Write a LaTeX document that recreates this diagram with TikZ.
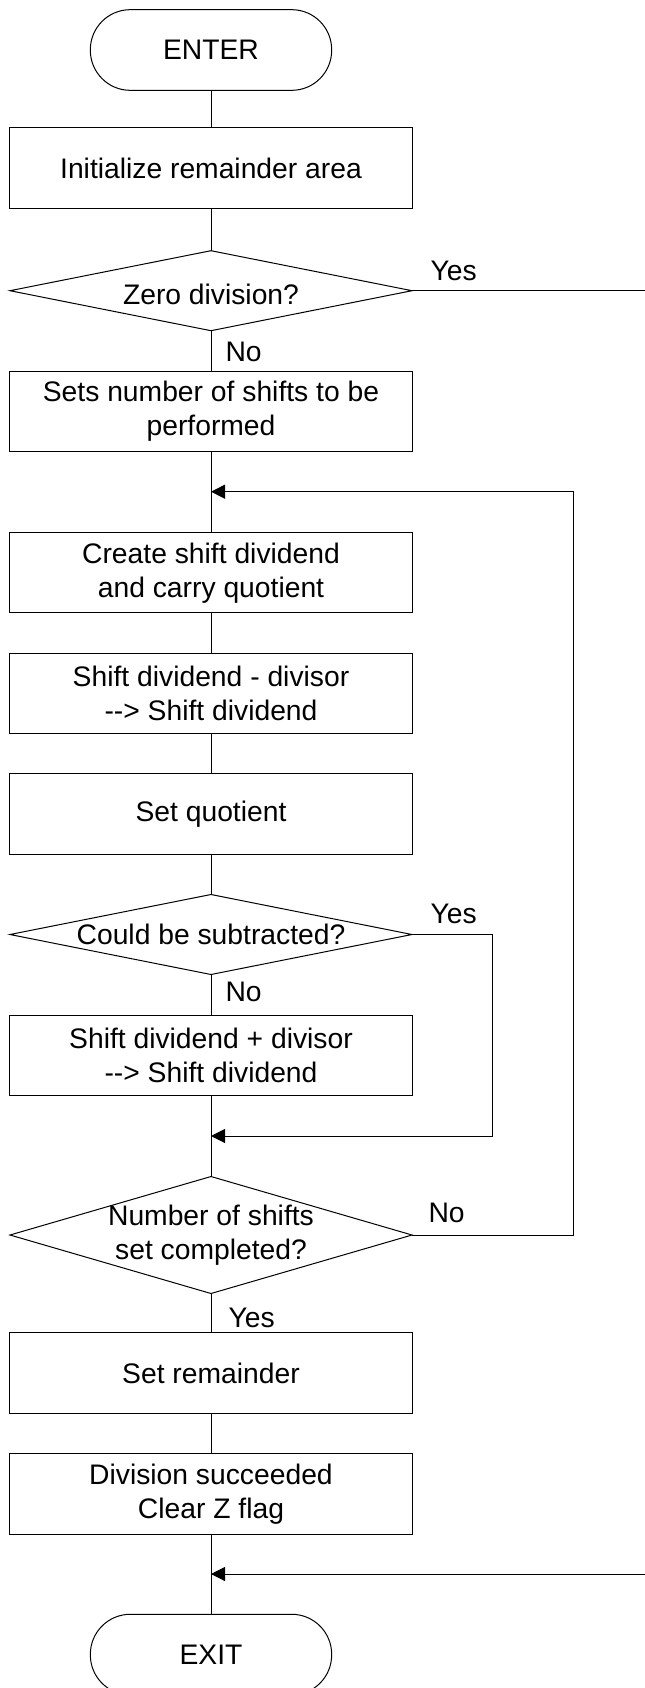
\documentclass[tikz,border=0pt]{standalone}
\usepackage{fontspec}
\setmainfont{Liberation Sans}
\usetikzlibrary{shapes.geometric}
\usetikzlibrary{arrows.meta}

\begin{document}
\begin{tikzpicture}[x = 0.75pt, y = -0.75pt, font = \fontsize{21.2pt}{25.5pt}\selectfont, line width = 0.75pt]
	\tikzstyle{termStyle}=[draw, rectangle, rounded corners = 30pt, minimum width = 181pt, minimum height = 60.5pt, inner sep = 0pt, outer sep = 0pt]
	\tikzstyle{procStyle}=[draw, rectangle, minimum width = 302pt, minimum height = 60.4pt, inner sep = 0pt, outer sep = 0pt, align = center]
	\tikzstyle{decStyle}=[draw, diamond, minimum width = 301.5pt, minimum height = 60pt, inner sep = 0pt, outer sep = 0pt]
	\tikzstyle{textStyle}=[align = center, inner sep = 0pt]
	\tikzstyle{labelStyle}=[anchor = base west, inner sep = 0pt]
	\tikzstyle{arrowStyle}=[-{Triangle[length = 10.5pt, width = 10.5pt]}]
	\path[fill = white, use as bounding box] (0, 0) rectangle (645, 1688);
	\node[termStyle] (enter) at (211, 50) {ENTER};
	\node[procStyle] (b1) at (211, 168) {Initialize remainder area};
	\node[decStyle] (d1) at (211, 290.7) {};
	\node[textStyle] (d1t) at (211, 294) {Zero division?};
	\node[procStyle] (b2) at (211, 411.5) {Sets number of shifts to be\\performed};
	\node[procStyle] (b3) at (211, 572.7) {Create shift dividend\\and carry quotient};
	\node[procStyle] (b4) at (211, 693.3) {Shift dividend - divisor\\-{}-> Shift dividend};
	\node[procStyle] (b5) at (211, 814.1) {Set quotient};
	\node[decStyle] (d2) at (211, 934.5) {};
	\node[textStyle] (d2t) at (211, 934.5) {Could be subtracted?};
	\node[procStyle] (b6) at (211, 1055.3) {Shift dividend + divisor\\-{}-> Shift dividend};
	\node[decStyle, minimum height = 87.75pt] (d3) at (211, 1235) {};
	\node[textStyle] (d3t) at (211, 1235) {Number of shifts\\set completed?};
	\node[procStyle] (b7) at (211, 1373.2) {Set remainder};
	\node[procStyle] (b8) at (211, 1494) {Division succeeded\\Clear Z flag};
	\node[termStyle] (exit) at (211, 1654.6) {EXIT};
	\node[labelStyle] (yes1) at (430, 280) {Yes};
	\node[labelStyle] (no1) at (225, 361.5) {No};
	\node[labelStyle] (yes2) at (430, 923.3) {Yes};
	\node[labelStyle] (no2) at (225, 1001.7) {No};
	\node[labelStyle] (no3) at (428, 1222.7) {No};
	\node[labelStyle] (yes3) at (228, 1327) {Yes};
	\coordinate (j1) at (211, 491.7);
	\coordinate (j2) at (211, 1136);
	\coordinate (j3) at (211, 1574);
	\coordinate (r1) at (646, 290.7);
	\coordinate (r2) at (646, 1574);
	\coordinate (c2) at (573.8, 491.7);
	\coordinate (c3) at (492.4, 1136);
	\draw (enter.south) -- (b1.north);
	\draw (b1.south) -- (d1.north);
	\draw (d1.south) -- (b2.north);
	\draw (d1.east) -- (r1);
	\draw (b2.south) -- (b3.north);
	\draw (b3.south) -- (b4.north);
	\draw (b4.south) -- (b5.north);
	\draw (b5.south) -- (d2.north);
	\draw (d2.south) -- (b6.north);
	\draw[arrowStyle] (d2.east) -| (c3) -- (j2);
	\draw (b6.south) -- (d3.north);
	\draw[arrowStyle] (d3.east) -| (c2) -- (j1);
	\draw (d3.south) -- (b7.north);
	\draw (b7.south) -- (b8.north);
	\draw (b8.south) -- (exit.north);
	\draw[arrowStyle] (r2) -- (j3);
\end{tikzpicture}
\end{document}
